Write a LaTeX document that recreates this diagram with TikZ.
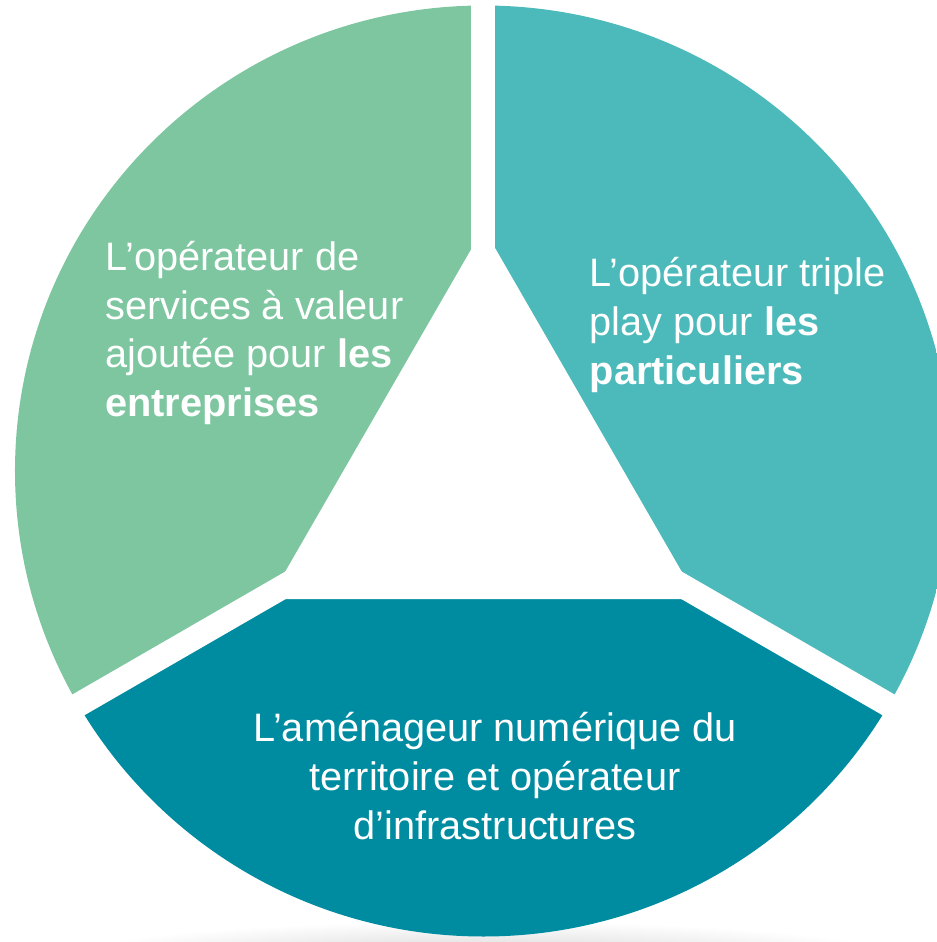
\documentclass[tikz,border=0pt]{standalone}
\usepackage{fontspec}
\setmainfont{Liberation Sans}
\definecolor{vert}{HTML}{7DC6A0}
\definecolor{turquoise}{HTML}{4CB9BA}
\definecolor{petrole}{HTML}{008CA0}

\begin{document}
\begin{tikzpicture}[gap/.style={white, line width=0.48cm},
        txt/.style={text=white, inner sep=0pt, font=\fontsize{22.6}{27.8}\selectfont}]
            \useasboundingbox (-9.67, -9.42) rectangle (9.07, 9.42);
            \shade[inner color=black!18, outer color=white] (0, -9.8) ellipse (8.6 and 0.8);
            \begin{scope}
                \clip (0, 0) ellipse (9.37 and 9.31);
                \fill[vert] (0, 0) -- (90:20) -- (150:20) -- (210:20) -- cycle;
                \fill[turquoise] (0, 0) -- (-30:20) -- (30:20) -- (90:20) -- cycle;
                \fill[petrole] (0, 0) -- (210:20) -- (270:20) -- (330:20) -- cycle;
            \end{scope}
            \fill[white] (0, 4.86) -- (-4.28, -2.56) -- (4.28, -2.56) -- cycle;
            \foreach \a in {90, 210, 330} {
                    \draw[gap] (0, 0) -- (\a:10);
            }
            \node[txt, anchor=west, align=left] (entreprises) at (-7.57, 2.76)
                {L’opérateur de\\services à valeur\\ajoutée pour \textbf{les}\\\textbf{entreprises}};
            \node[txt, anchor=west, align=left] (particuliers) at (2.12, 2.92)
                {L’opérateur triple\\play pour \textbf{les}\\\textbf{particuliers}};
            \node[txt, align=center] (territoire) at (0.23, -6.10)
                {L’aménageur numérique du\\territoire et opérateur\\d’infrastructures};
    \end{tikzpicture}
\end{document}
